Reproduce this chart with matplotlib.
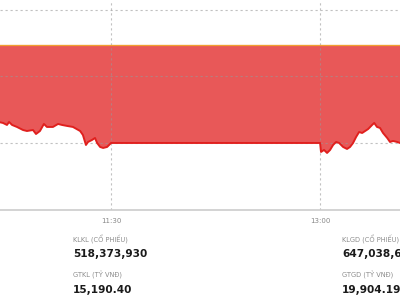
import matplotlib.pyplot as plt

# index values, time in minutes since midnight
ref_price = 1284.74
grid_levels = [1290, 1280, 1270]

am_time = [642.2, 643.5, 645.2, 646.1, 647.4, 649.5, 652.1, 653.8, 656.4, 657.7,
           659.4, 661.1, 662.4, 665.0, 667.2, 668.9, 671.1, 673.6, 676.7, 677.9,
           679.2, 680.1, 681.8, 683.1, 684.0, 685.3, 686.6, 688.3, 689.6, 690.0]
am_price = [1273.11, 1273.01, 1272.71, 1273.16, 1272.71, 1272.41, 1271.95, 1271.80, 1271.95, 1271.35,
            1271.80, 1272.86, 1272.41, 1272.41, 1272.86, 1272.71, 1272.56, 1272.41, 1271.80, 1271.20,
            1269.70, 1270.15, 1270.45, 1270.75, 1270.00, 1269.40, 1269.25, 1269.40, 1269.85, 1270.00]

pm_time = [780.0, 780.4, 781.7, 783.0, 784.3, 785.6, 786.9, 788.2, 789.9, 791.6, 792.9,
           794.2, 795.5, 796.8, 798.1, 799.4, 800.7, 802.4, 803.3, 804.5, 805.8,
           807.1, 808.9, 810.1, 811.4, 813.2, 814.4]
pm_price = [1270.00, 1268.65, 1268.95, 1268.50, 1268.95, 1269.70, 1270.15, 1270.00, 1269.40, 1269.10, 1269.40,
            1270.00, 1270.90, 1271.65, 1271.50, 1271.80, 1272.10, 1272.71, 1273.01, 1272.41, 1272.26,
            1271.50, 1270.75, 1270.15, 1270.30, 1270.15, 1270.00]

tick_times = [690, 780]
tick_labels = ['11:30', '13:00']

stats_left = [('KLKL (CỔ PHIẾU)', '518,373,930'), ('GTKL (TỶ VNĐ)', '15,190.40')]
stats_right = [('KLGD (CỔ PHIẾU)', '647,038,650'), ('GTGD (TỶ VNĐ)', '19,904.19')]

times = am_time + pm_time
prices = am_price + pm_price

fig = plt.figure(figsize=(4, 3), dpi=100)
ax = fig.add_axes([0, 0.3, 1, 0.7])

ax.fill_between(times, prices, ref_price, color='#e85858', lw=0, zorder=1)
ax.plot(times, prices, color='#e0201e', lw=1.4, zorder=3)
ax.axhline(ref_price, color='#f0a030', lw=0.9, zorder=4)

for lvl in grid_levels:
    ax.axhline(lvl, color='#999999', lw=0.8, ls=(0, (2, 2.5)), alpha=0.6, zorder=2)
for t in tick_times:
    ax.axvline(t, color='#999999', lw=0.8, ls=(0, (2, 2.5)), alpha=0.6, zorder=2)

ax.set_xlim(642.2, 814.4)
ax.set_ylim(1259.92, 1291.5)
ax.set_yticks([])
ax.set_xticks(tick_times)
ax.set_xticklabels(tick_labels, fontsize=5, color='#888888', family='DejaVu Sans')
ax.tick_params(axis='x', length=0, pad=5.5)
for s in ['top', 'left', 'right']:
    ax.spines[s].set_visible(False)
ax.spines['bottom'].set_color('#cccccc')
ax.spines['bottom'].set_linewidth(1.2)

def draw_stats(x, rows):
    ys = [(239, 254), (275, 290)]
    for (label, value), (yl, yv) in zip(rows, ys):
        fig.text(x / 400, 1 - yl / 300, label, fontsize=4.8, color='#8c8c8c',
                 va='center', ha='left', family='DejaVu Sans')
        fig.text(x / 400, 1 - yv / 300, value, fontsize=7.6, color='#1a1a1a',
                 fontweight='bold', va='center', ha='left', family='DejaVu Sans')

draw_stats(73, stats_left)
draw_stats(342, stats_right)

fig.savefig('out.png', dpi=100)
